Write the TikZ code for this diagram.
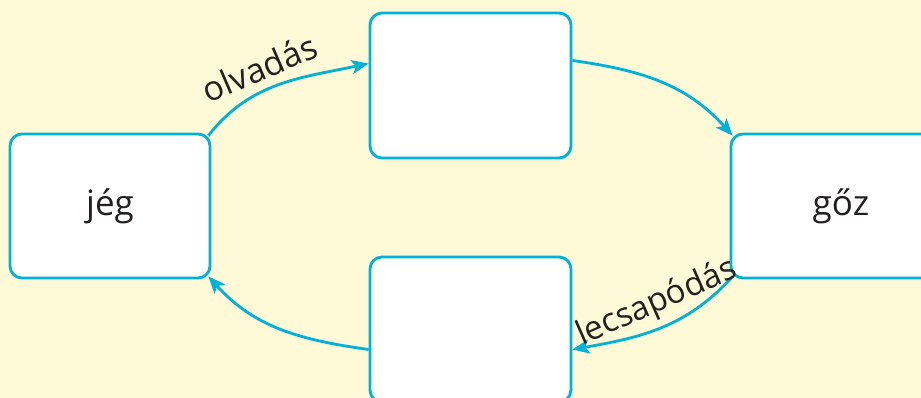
\documentclass[tikz,border=0pt]{standalone}
\usepackage{fontspec}
\setmainfont{Open Sans}
\usetikzlibrary{calc,arrows.meta}
\definecolor{bgyellow}{HTML}{FEF9D6}
\definecolor{cyanline}{HTML}{00B2DA}
\definecolor{txt}{HTML}{231F20}
\tikzset{
  statebox/.style={draw=cyanline, line width=2.8pt, fill=white, rounded corners=12pt,
    minimum width=200pt, minimum height=144pt, inner sep=0pt, text=txt, font=\fontsize{35}{42}\selectfont},
  flow/.style={draw=cyanline, line width=2.8pt, -{Stealth[length=17pt,width=14pt,inset=4pt]}},
  lbl/.style={sloped, above, text=txt, font=\fontsize{33}{40}\selectfont, inner sep=6pt}
}
\begin{document}
\begin{tikzpicture}[x=1pt,y=1pt]
\fill[bgyellow] (0,0) rectangle (921,-398);
\useasboundingbox (0,0) rectangle (921,-398);
\clip (0,0) rectangle (921,-398);
\node[statebox] (jeg) at (110,-206) {jég};
\node[statebox, minimum width=201pt, minimum height=145pt] (top) at (470.5,-85.5) {};
\node[statebox, minimum width=220pt] (goz) at (841,-206) {gőz};
\node[statebox, minimum width=201pt, minimum height=145pt] (bot) at (470.5,-329.5) {};
\draw[flow] ($(jeg.north east)+(-3,-3)$) to[out=52,in=192] node[lbl, pos=0.43, font=\fontsize{34}{40}\selectfont, inner sep=8pt] {olvadás} ($(top.west)+(0,22)$);
\draw[flow] ($(top.east)+(0,25)$) to[out=-8,in=132] ($(goz.north west)+(3,-3)$);
\draw[flow] ($(goz.south west)+(3,3)$) to[out=-132,in=10] node[lbl, pos=0.46] {lecsapódás} ($(bot.east)+(0,-20)$);
\draw[flow] ($(bot.west)+(0,-20)$) to[out=172,in=-48] ($(jeg.south east)+(-3,3)$);
\end{tikzpicture}
\end{document}
